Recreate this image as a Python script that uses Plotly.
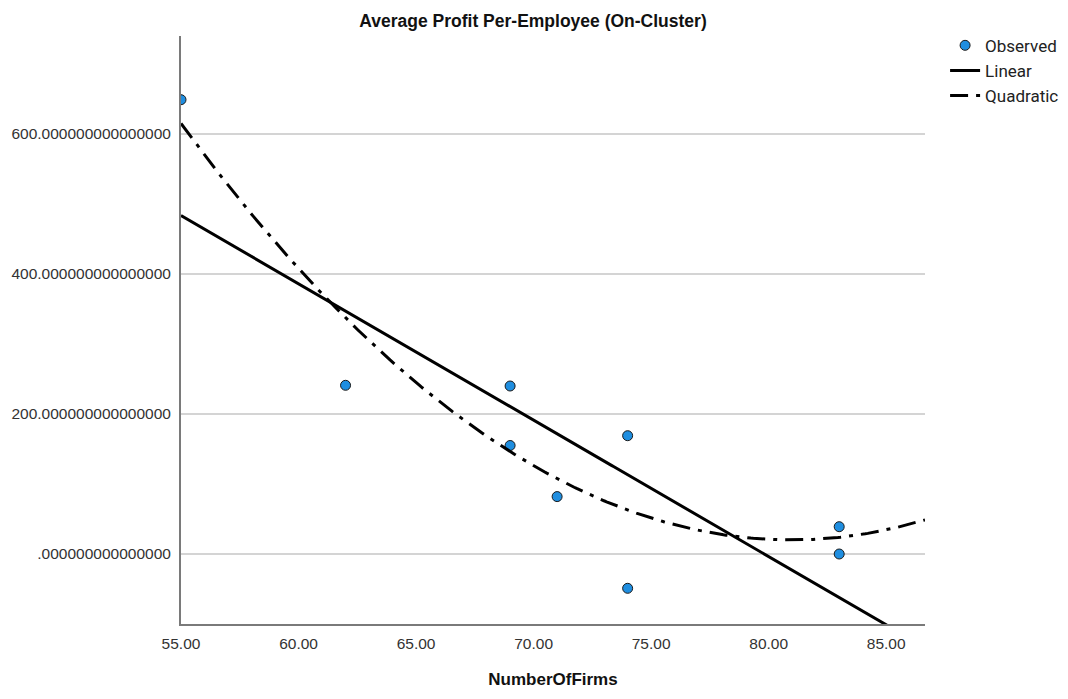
import numpy as np
import plotly.graph_objects as go

# Observed cluster data: number of firms vs. average profit per employee
number_of_firms = [55, 62, 69, 69, 71, 74, 74, 83, 83]
avg_profit = [649, 241, 240, 155, 82, 169, -49, 39, 0]

y_tick_values = [0, 200, 400, 600]
y_tick_labels = [".000000000000000", "200.000000000000000",
                 "400.000000000000000", "600.000000000000000"]
x_tick_values = [55, 60, 65, 70, 75, 80, 85]
x_tick_labels = ["55.00", "60.00", "65.00", "70.00", "75.00", "80.00", "85.00"]

X_RANGE = [55, 86.65]
Y_RANGE = [-100, 740]

# Least-squares fits over the observed points
x_arr = np.array(number_of_firms, dtype=float)
y_arr = np.array(avg_profit, dtype=float)
lin_coef = np.polyfit(x_arr, y_arr, 1)
quad_coef = np.polyfit(x_arr, y_arr, 2)
x_fit = np.linspace(X_RANGE[0], X_RANGE[1], 300)
y_lin = np.polyval(lin_coef, x_fit)
y_quad = np.polyval(quad_coef, x_fit)

fig = go.Figure()
fig.add_trace(go.Scatter(
    x=number_of_firms, y=avg_profit, mode="markers", name="Observed",
    marker=dict(size=10, color="#1f8ee0", line=dict(color="#1a1a1a", width=1)),
))
fig.add_trace(go.Scatter(
    x=x_fit, y=y_lin, mode="lines", name="Linear",
    line=dict(color="black", width=3),
))
fig.add_trace(go.Scatter(
    x=x_fit, y=y_quad, mode="lines", name="Quadratic",
    line=dict(color="black", width=3, dash="18px,8px,4px,8px"),
))

fig.update_layout(
    width=1068, height=699,
    margin=dict(l=181, r=143, t=36, b=75, autoexpand=False),
    paper_bgcolor="white", plot_bgcolor="white",
    font=dict(family="Liberation Sans, Arial, sans-serif", color="#222"),
    title=dict(
        text="<b>Average Profit Per-Employee (On-Cluster)</b>",
        x=533 / 1068, xanchor="center",
        y=1 - 21 / 699, yanchor="middle",
        font=dict(size=17.5, color="#111"),
    ),
    showlegend=True,
    legend=dict(
        x=1.027, xanchor="left", y=1.014, yanchor="top",
        font=dict(family="Roboto, sans-serif", size=17, color="#222"),
        bgcolor="rgba(0,0,0,0)", itemwidth=30, tracegroupgap=0,
    ),
    xaxis=dict(
        range=X_RANGE, tickvals=x_tick_values, ticktext=x_tick_labels,
        showgrid=False, zeroline=False, showline=True,
        linecolor="#7a7a7a", linewidth=2, ticks="",
        ticklabelstandoff=4,
        tickfont=dict(size=15.5, color="#333"),
        title=dict(text="<b>NumberOfFirms</b>", font=dict(size=17, color="#111"),
                   standoff=23),
    ),
    yaxis=dict(
        range=Y_RANGE, tickvals=y_tick_values, ticktext=y_tick_labels,
        showgrid=True, gridcolor="#d4d4d4", gridwidth=2,
        zeroline=False, showline=True,
        linecolor="#7a7a7a", linewidth=2, ticks="",
        ticklabelstandoff=5,
        tickfont=dict(size=15.5, color="#333"),
    ),
)

fig.write_html("out.html")
